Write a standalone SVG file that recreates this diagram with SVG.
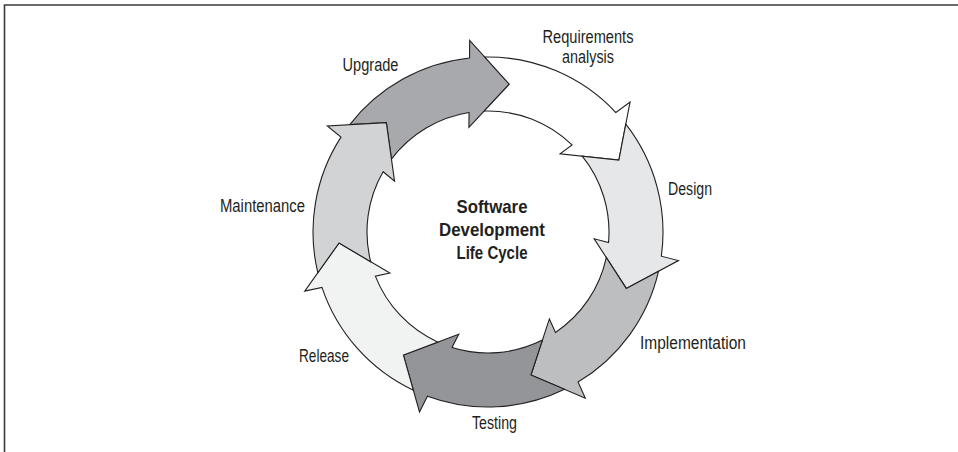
<svg xmlns="http://www.w3.org/2000/svg" width="958" height="452" viewBox="0 0 958 452">
  <style>
    .arrow { stroke: #231f20; stroke-width: 1.1; stroke-linejoin: miter; }
    .lbl { font-family: "Liberation Sans Narrow", "Liberation Sans", sans-serif; font-size: 17.5px; fill: #231f20; text-anchor: middle; }
    .title { font-family: "Liberation Sans Narrow", "Liberation Sans", sans-serif; font-size: 18.5px; font-weight: bold; fill: #231f20; text-anchor: middle; }
  </style>
  <rect x="0" y="0" width="958" height="452" fill="#ffffff"/>
  <path d="M4.5,452 V5 H958" fill="none" stroke="#3a3a3a" stroke-width="1.6"/>
  <g id="connectors">
    <path id="arrow-upgrade" class="arrow" fill="#a7a9ac" d="M349.80,124.64 A175,175 0 0 1 469.53,57.98 L469.67,40.34 L509.29,84.18 L468.91,127.33 L469.05,112.49 A121,121 0 0 0 391.45,159.06 L386.33,122.61 Z"/>
    <path id="arrow-requirements" class="arrow" fill="#ffffff" d="M484.76,57.03 A175,175 0 0 1 615.86,112.52 L630.04,102.01 L618.87,160.05 L560.10,153.76 L572.04,144.95 A121,121 0 0 0 484.14,111.06 L509.29,84.18 Z"/>
    <path id="arrow-design" class="arrow" fill="#e6e7e8" d="M625.79,124.11 A175,175 0 0 1 661.32,256.17 L678.41,260.59 L626.28,288.42 L594.18,238.80 L608.54,242.52 A121,121 0 0 0 582.26,156.13 L618.87,160.05 Z"/>
    <path id="arrow-implementation" class="arrow" fill="#bcbec0" d="M658.56,271.19 A175,175 0 0 1 578.03,382.07 L585.32,398.14 L530.93,375.04 L549.38,318.91 L555.50,332.42 A121,121 0 0 0 606.28,257.51 L626.28,288.42 Z"/>
    <path id="arrow-testing" class="arrow" fill="#939598" d="M564.60,389.34 A175,175 0 0 1 427.46,396.20 L419.51,411.95 L403.42,355.08 L458.73,334.30 L452.04,347.53 A121,121 0 0 0 542.42,340.07 L530.93,375.04 Z"/>
    <path id="arrow-release" class="arrow" fill="#f1f2f2" d="M413.38,390.29 A175,175 0 0 1 322.00,287.41 L304.73,291.06 L339.06,242.95 L389.87,273.12 L375.35,276.17 A121,121 0 0 0 437.88,342.13 L403.42,355.08 Z"/>
    <path id="arrow-maintenance" class="arrow" fill="#d1d3d4" d="M317.81,272.73 A175,175 0 0 1 340.97,137.10 L327.33,125.90 L386.33,122.61 L394.56,181.12 L383.09,171.70 A121,121 0 0 0 370.71,261.74 L339.06,242.95 Z"/>
  </g>
  <g id="node-center">
    <text class="title" x="492" y="213" textLength="71" lengthAdjust="spacingAndGlyphs">Software</text>
    <text class="title" x="492" y="236" textLength="106" lengthAdjust="spacingAndGlyphs">Development</text>
    <text class="title" x="492" y="259" textLength="71" lengthAdjust="spacingAndGlyphs">Life Cycle</text>
  </g>
  <g id="node-requirements"><text class="lbl" x="588" y="43" textLength="91" lengthAdjust="spacingAndGlyphs">Requirements</text><text class="lbl" x="588" y="63" textLength="52" lengthAdjust="spacingAndGlyphs">analysis</text></g>
  <g id="node-design"><text class="lbl" x="690" y="195" textLength="44" lengthAdjust="spacingAndGlyphs">Design</text></g>
  <g id="node-implementation"><text class="lbl" x="693" y="349" textLength="106" lengthAdjust="spacingAndGlyphs">Implementation</text></g>
  <g id="node-testing"><text class="lbl" x="494.5" y="429" textLength="45" lengthAdjust="spacingAndGlyphs">Testing</text></g>
  <g id="node-release"><text class="lbl" x="324" y="362" textLength="50" lengthAdjust="spacingAndGlyphs">Release</text></g>
  <g id="node-maintenance"><text class="lbl" x="262.5" y="212" textLength="85" lengthAdjust="spacingAndGlyphs">Maintenance</text></g>
  <g id="node-upgrade"><text class="lbl" x="370.5" y="71" textLength="56" lengthAdjust="spacingAndGlyphs">Upgrade</text></g>
</svg>
